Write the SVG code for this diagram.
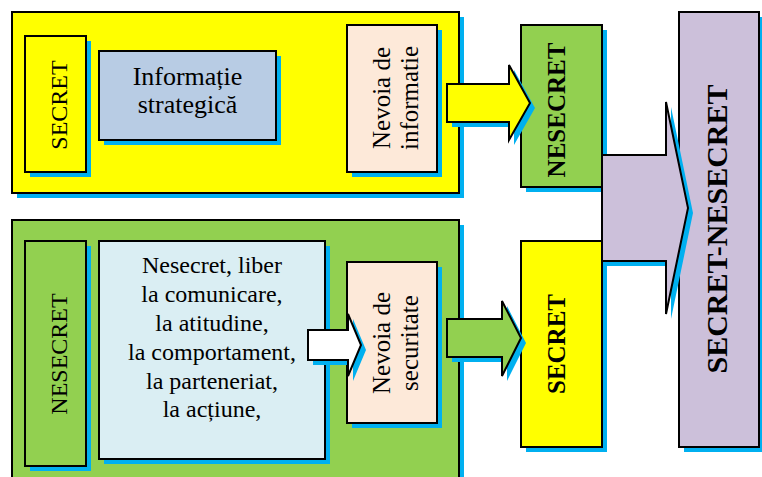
<svg xmlns="http://www.w3.org/2000/svg" width="762" height="477" viewBox="0 0 762 477">
<style>
.sh{fill:#00B0F0;stroke:none}
.b{stroke:#000;stroke-width:2}
.yel{fill:#FFFF00}
.grn{fill:#92D050}
.blu{fill:#B8CCE4}
.cyn{fill:#DAEEF3}
.pch{fill:#FDE9D9}
.pur{fill:#CCC0DA}
.wht{fill:#FFFFFF}
text{font-family:"Liberation Serif","Times New Roman",Times,"DejaVu Serif",serif;font-weight:normal;fill:#000;text-anchor:middle}
.t24{font-size:24px}
.t25{font-size:25px}
.t26{font-size:26px}
.bold{font-weight:bold}
</style>
<rect width="762" height="477" fill="#fff"/>
<g id="container-top">
<rect class="sh" x="17" y="17" width="447" height="181"/>
<rect class="b yel" x="12" y="12" width="447" height="181"/>
</g>
<g id="container-bottom">
<rect class="sh" x="17" y="225" width="447" height="260"/>
<rect class="b grn" x="12" y="220" width="447" height="265"/>
</g>
<g id="secret-left">
<rect class="sh" x="30" y="41" width="61" height="136"/>
<rect class="b yel" x="25" y="36" width="61" height="136"/>
<text class="t24" font-family="Liberation Serif, serif" transform="translate(67,105) rotate(-90)">SECRET</text>
</g>
<g id="informatie-strategica">
<rect class="sh" x="104" y="56" width="177" height="89"/>
<rect class="b blu" x="99" y="51" width="177" height="89"/>
<text class="t26" x="187.5" y="85">Informație</text>
<text class="t26" x="187.5" y="113">strategică</text>
</g>
<g id="nevoia-informatie">
<rect class="sh" x="352" y="30" width="90" height="147"/>
<rect class="b pch" x="347" y="25" width="90" height="147"/>
<text class="t25" transform="translate(390,98) rotate(-90)">Nevoia de</text>
<text class="t25" transform="translate(418,98) rotate(-90)">informatie</text>
</g>
<g id="nesecret-left">
<rect class="sh" x="30" y="246" width="61" height="225"/>
<rect class="b grn" x="25" y="241" width="61" height="225"/>
<text class="t24" transform="translate(67,354) rotate(-90)">NESECRET</text>
</g>
<g id="nesecret-liber">
<rect class="sh" x="104" y="246" width="226" height="218"/>
<rect class="b cyn" x="99" y="241" width="226" height="218"/>
<text class="t24" x="212" y="273">Nesecret, liber</text>
<text class="t24" x="212" y="302">la comunicare,</text>
<text class="t24" x="212" y="331">la atitudine,</text>
<text class="t24" x="212" y="359.5">la comportament,</text>
<text class="t24" x="212" y="388.5">la parteneriat,</text>
<text class="t24" x="212" y="417">la acțiune,</text>
</g>
<g id="nevoia-securitate">
<rect class="sh" x="352" y="267" width="90" height="161"/>
<rect class="b pch" x="347" y="262" width="90" height="161"/>
<text class="t25" transform="translate(390,343) rotate(-90)">Nevoia de</text>
<text class="t25" transform="translate(418,343) rotate(-90)">securitate</text>
</g>
<g id="nesecret-right">
<rect class="sh" x="526" y="30" width="81" height="162"/>
<rect class="b grn" x="521" y="25" width="81" height="162"/>
<text class="t25 bold" transform="translate(565,110) rotate(-90)">NESECRET</text>
</g>
<g id="secret-right">
<rect class="sh" x="526" y="246" width="81" height="206"/>
<rect class="b yel" x="521" y="241" width="81" height="206"/>
<text class="t25 bold" transform="translate(565,344) rotate(-90)">SECRET</text>
</g>
<g id="secret-nesecret">
<rect class="sh" x="684" y="17" width="80" height="435"/>
<rect class="b pur" x="679" y="12" width="80" height="435"/>
<text class="bold" style="font-size:30px" transform="translate(727,229) rotate(-90)">SECRET-NESECRET</text>
</g>
<g id="connectors">
<g id="arrow-yellow">
<polygon class="sh" transform="translate(5,5)" points="447,84 509,84 509,65 530,103 509,140 509,122 447,122"/>
<polygon class="b yel" points="447,84 509,84 509,65 530,103 509,140 509,122 447,122"/>
</g>
<g id="arrow-green">
<polygon class="sh" transform="translate(5,5)" points="447,319 502,319 502,301 521,338 502,376 502,357 447,357"/>
<polygon class="b grn" points="447,319 502,319 502,301 521,338 502,376 502,357 447,357"/>
</g>
<g id="arrow-white">
<polygon class="sh" transform="translate(5,5)" points="308,330 348,330 348,314 361,345 348,376 348,360 308,360"/>
<polygon class="b wht" points="308,330 348,330 348,314 361,345 348,376 348,360 308,360"/>
</g>
<g id="arrow-purple">
<polygon class="sh" transform="translate(5,5)" points="602,155 666,155 666,102 688,208 666,314 666,261 602,261"/>
<polygon class="b pur" points="602,155 666,155 666,102 688,208 666,314 666,261 602,261"/>
</g>
</g>
</svg>
